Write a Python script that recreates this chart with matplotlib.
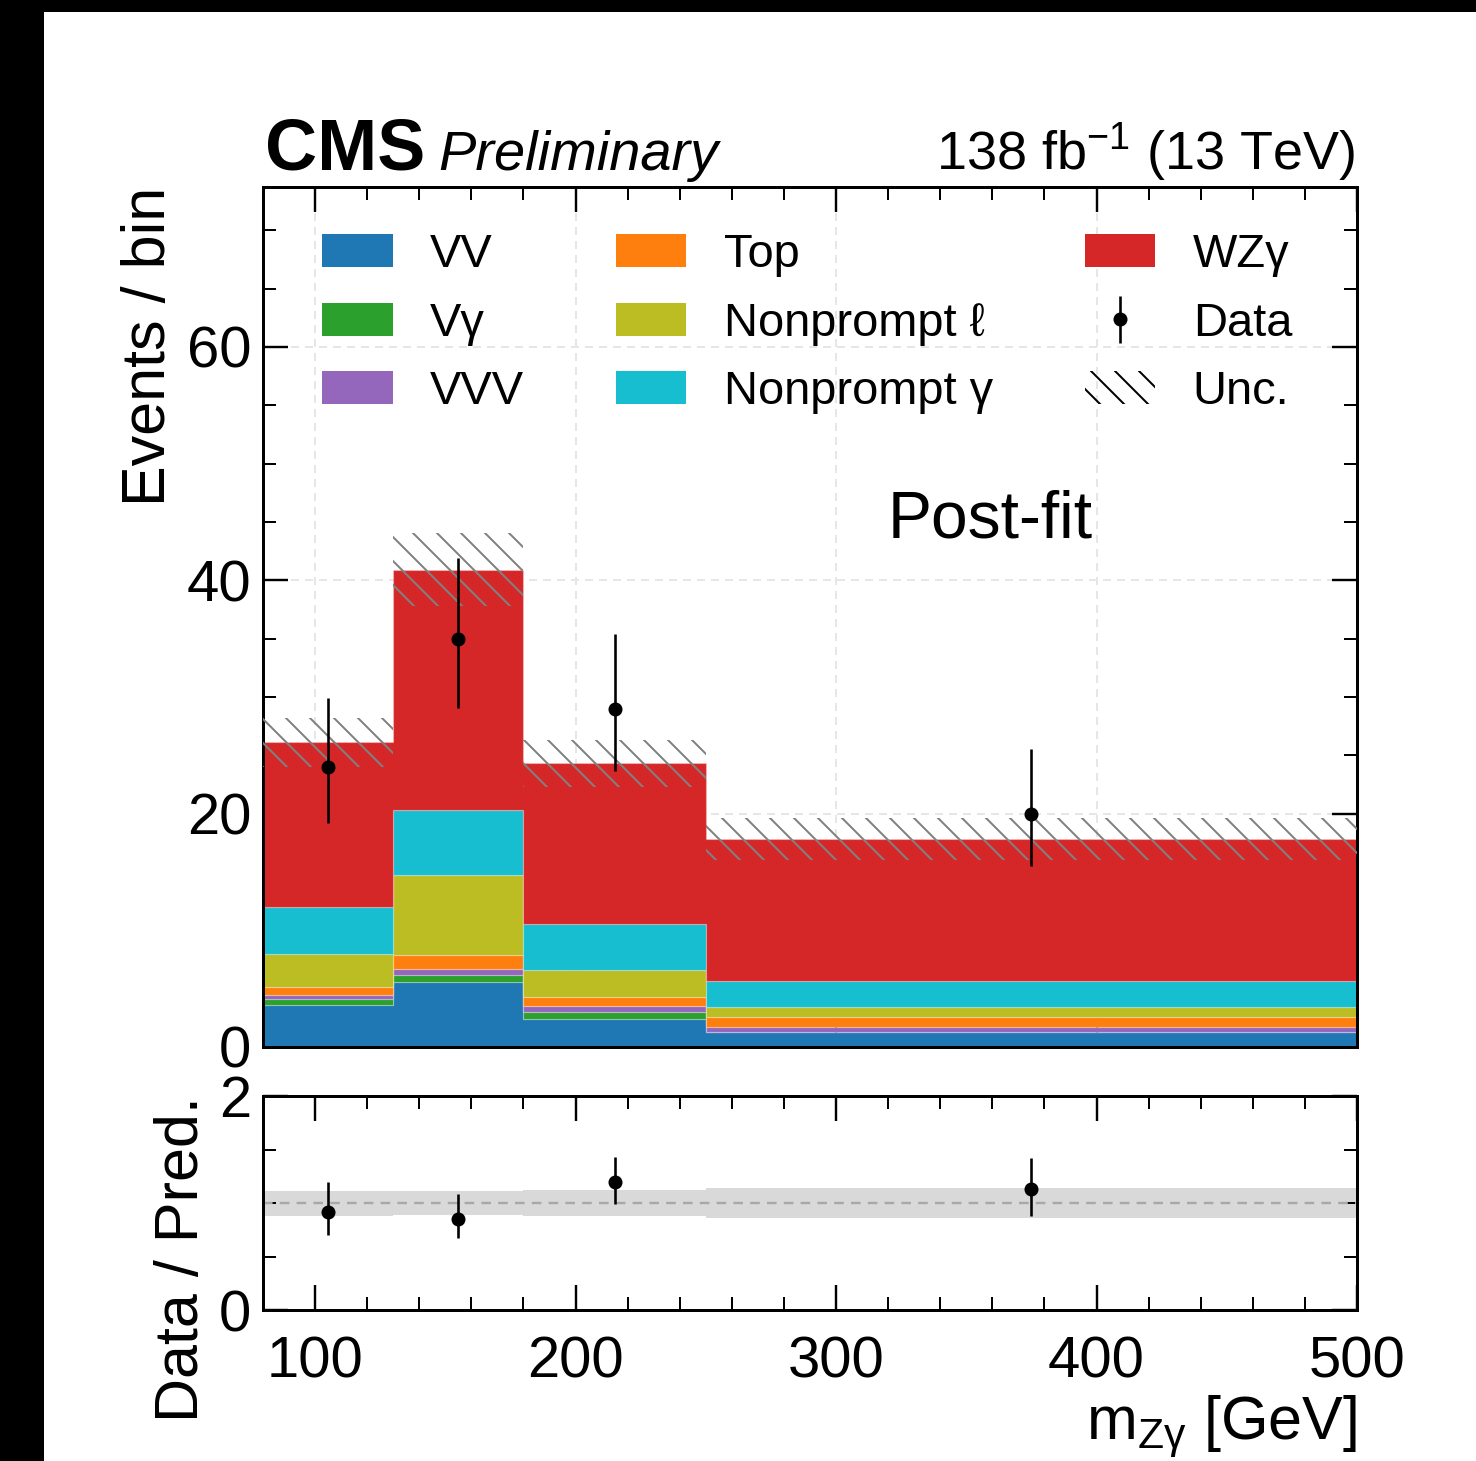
import numpy as np
import matplotlib
matplotlib.use("Agg")
import matplotlib.pyplot as plt
from matplotlib.patches import Patch, Rectangle
from matplotlib.ticker import MultipleLocator

plt.rcParams['font.family'] = ['Liberation Sans', 'DejaVu Sans']
plt.rcParams['mathtext.fontset'] = 'custom'
plt.rcParams['mathtext.rm'] = 'Liberation Sans'
plt.rcParams['mathtext.it'] = 'Liberation Sans:italic'
plt.rcParams['mathtext.bf'] = 'Liberation Sans:bold'
plt.rcParams['hatch.linewidth'] = 1.0

# ---------------- data ----------------
edges = [80, 130, 180, 250, 500]
centers = [105, 155, 215, 375]

labels = ["VV", "Vγ", "VVV", "Top", "Nonprompt ℓ", "Nonprompt γ", "WZγ"]
colors = ["#1f77b4", "#2ca02c", "#9467bd", "#ff7f0e", "#bcbd22", "#17becf", "#d62728"]

vv = [3.57, 5.60, 2.43, 1.28]
vgamma = [0.57, 0.60, 0.60, 0.0]
vvv = [0.28, 0.45, 0.51, 0.46]
top = [0.69, 1.26, 0.71, 0.80]
nonprompt_l = [2.86, 6.80, 2.35, 0.91]
nonprompt_g = [4.00, 5.59, 3.94, 2.20]
wzg = [14.15, 20.62, 13.76, 12.17]

unc = [2.1, 3.15, 2.05, 1.78]

data = [24, 35, 29, 20]
data_err_lo = [4.84, 5.94, 5.36, 4.47]
data_err_hi = [5.87, 6.94, 6.37, 5.50]

ratio = [0.919, 0.853, 1.193, 1.128]
ratio_err_lo = [0.22, 0.183, 0.20, 0.247]
ratio_err_hi = [0.274, 0.228, 0.24, 0.295]
ratio_band_lo = [0.881, 0.888, 0.881, 0.863]
ratio_band_hi = [1.112, 1.112, 1.124, 1.140]

# ---------------- figure ----------------
W, H, DPI = 1476, 1461, 144
fig = plt.figure(figsize=(W / DPI, H / DPI), dpi=DPI, facecolor='black')
fig.patches.append(Rectangle((44 / W, 0), 1 - 44 / W, 1 - 12 / H,
                             transform=fig.transFigure, facecolor='white',
                             edgecolor='none', zorder=-10))

L, R = 263, 1357
ax = fig.add_axes([L / W, 1 - 1047 / H, (R - L) / W, (1047 - 187) / H])
rax = fig.add_axes([L / W, 1 - 1310 / H, (R - L) / W, (1310 - 1096) / H], sharex=ax)

edges_a = np.array(edges, dtype=float)
comps = [vv, vgamma, vvv, top, nonprompt_l, nonprompt_g, wzg]
base = np.zeros(len(vv))
handles = []
for vals, c, lab in zip(comps, colors, labels):
    v = np.array(vals)
    ax.stairs(base + v, edges_a, baseline=base.copy(), fill=True, facecolor=c,
              edgecolor=(1, 1, 1, 0.25), linewidth=0.6, zorder=2)
    handles.append(Patch(facecolor=c, edgecolor='none', label=lab))
    base = base + v
total = base

unc_a = np.array(unc)
ax.stairs(total + unc_a, edges_a, baseline=total - unc_a, fill=True,
          facecolor='none', edgecolor='#808080', hatch='\\\\', linewidth=0, zorder=3)

eb = ax.errorbar(centers, data, yerr=[data_err_lo, data_err_hi], fmt='o',
                 color='black', markersize=6, elinewidth=1.3, capsize=0, zorder=5,
                 label='Data')

handles.append(eb)
handles.append(Patch(facecolor='none', edgecolor='black', hatch='\\\\',
                     linewidth=0, label='Unc.'))

ax.set_xlim(80, 500)
ax.set_ylim(0, 73.7)
ax.yaxis.set_major_locator(MultipleLocator(20))
ax.yaxis.set_minor_locator(MultipleLocator(5))
ax.xaxis.set_major_locator(MultipleLocator(100))
ax.xaxis.set_minor_locator(MultipleLocator(20))
ax.grid(True, which='major', color='#e6e6e6', linestyle=(0, (4, 3)), linewidth=1.0, zorder=0)
ax.set_axisbelow(True)
ax.tick_params(labelbottom=False)

leg = ax.legend(handles=handles, ncol=3, loc='upper left',
                bbox_to_anchor=((322 - L) / (R - L), 0.9464), frameon=False,
                fontsize=23.5, handlelength=1.5, handleheight=0.7,
                handletextpad=0.8, columnspacing=1.95, labelspacing=0.52,
                borderpad=0, borderaxespad=0)

ax.text(0.0015, 1 + 17 / 860, "CMS", transform=ax.transAxes, ha='left',
        va='baseline', fontsize=36, fontweight='bold')
ax.text((438 - L) / (R - L), 1 + 17 / 860, "Preliminary", transform=ax.transAxes,
        ha='left', va='baseline', fontsize=28, fontstyle='italic')
ax.text(0.998, 1 + 17 / 860, r"138 fb$^{-1}$ (13 TeV)", transform=ax.transAxes,
        ha='right', va='baseline', fontsize=27)
ax.text((888 - L) / (R - L), (1047 - 537) / 860, "Post-fit", transform=ax.transAxes,
        ha='left', va='baseline', fontsize=33)

ax.set_ylabel("Events / bin", loc='top', fontsize=30.5)

# ratio panel
rb_lo = np.array(ratio_band_lo)
rb_hi = np.array(ratio_band_hi)
rax.stairs(rb_hi, edges_a, baseline=rb_lo, fill=True, color='#d9d9d9', linewidth=0, zorder=1)
rax.axhline(1.0, color='#a8a8a8', linestyle=(0, (4, 3)), linewidth=1.2, zorder=2)
rax.errorbar(centers, ratio, yerr=[ratio_err_lo, ratio_err_hi], fmt='o', color='black',
             markersize=6, elinewidth=1.3, capsize=0, zorder=5)
rax.set_ylim(0, 2)
rax.yaxis.set_major_locator(MultipleLocator(2))
rax.yaxis.set_minor_locator(MultipleLocator(0.5))
rax.set_ylabel("Data / Pred.", loc='top', fontsize=30.5)
rax.set_xlabel(r"m$_{\mathregular{Zγ}}$ [GeV]", loc='right', fontsize=30.5, labelpad=2)

for a in (ax, rax):
    for s in a.spines.values():
        s.set_linewidth(1.5)
    a.tick_params(which='both', direction='in', top=True, right=True, labelsize=29)
    a.tick_params(which='major', length=12.5, width=1.2, pad=6)
    a.tick_params(which='minor', length=6.5, width=1.0)
rax.tick_params(axis='x', which='major', pad=12.5)

fig.savefig("out.png", dpi=DPI, facecolor=fig.get_facecolor())
